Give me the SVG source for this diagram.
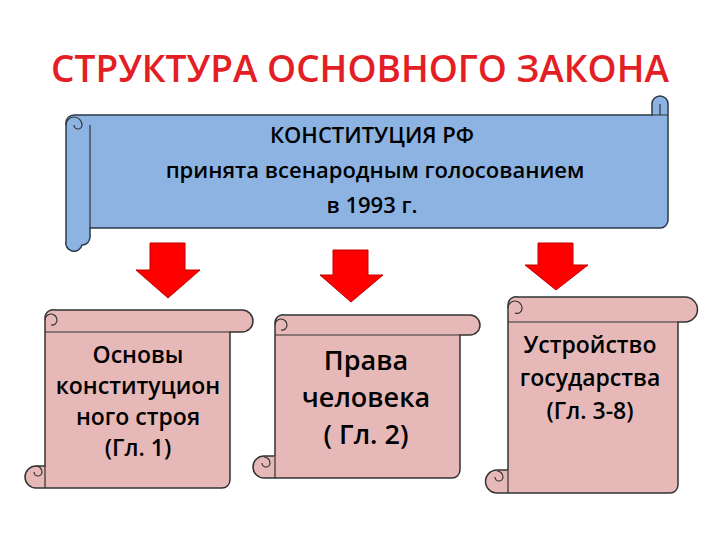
<svg xmlns="http://www.w3.org/2000/svg" width="720" height="540" viewBox="0 0 720 540">
<style>
text{font-family:"Open Sans","Liberation Sans",sans-serif;fill:#000;text-anchor:middle;font-weight:600}
.bl{fill:#8DB3E2;stroke:#2b3a4a;stroke-width:1.5}
.pk{fill:#E6B9B8;stroke:#333;stroke-width:1.5}
.ln{fill:none;stroke:#333;stroke-width:1.2}
.ar{fill:#FF0000;stroke:#C00000;stroke-width:1}
</style>
<rect width="720" height="540" fill="#fff"/>
<text x="360" y="82" font-size="37" style="fill:#E31E24">СТРУКТУРА ОСНОВНОГО ЗАКОНА</text>
<g id="main">
<path class="bl" d="M78,115 H652 V104 a8,8 0 0 1 16,0 V220 a8,8 0 0 1 -8,8 H90 V237 a8,8 0 0 1 -8,8 a8,8 0 0 1 -16,-4 V123 a8,8 0 0 1 8,-8 Z"/>
<path class="ln" d="M66,125 a8,8 0 0 1 16,0 a4,4 0 0 1 -8,0 M90,125 V228 M652,115 H668 M660,104 V115"/>
<text x="372" y="143" font-size="22" font-weight="bold">КОНСТИТУЦИЯ РФ</text>
<text x="375" y="178" font-size="22">принята всенародным голосованием</text>
<text x="372" y="213" font-size="22" font-weight="bold">в 1993 г.</text>
</g>
<g id="connectors">
<path class="ar" d="M150,243 H185 V270 H200 L168,298 L136,270 H150 Z"/>
<path class="ar" d="M333,250 H368 V275 H383 L351,302 L320,275 H333 Z"/>
<path class="ar" d="M538,243 H573 V265 H588 L556,290 L525,265 H538 Z"/>
</g>
<g id="box1">
<path class="pk" d="M55,310 H242 a10,10 0 0 1 0,22 H230 V480 a8,8 0 0 1 -8,8 H36 a8,8 0 0 1 0,-22 H45 V318 a8,8 0 0 1 10,-8 Z"/>
<path class="ln" d="M45,320 a6,6 0 0 1 12,0 a5,5 0 0 1 -6,5 M45,332 H230 M36,466 a6,6 0 0 1 6,6 a4,4 0 0 1 -8,0 M45,466 V488"/>
<text x="138" y="363" font-size="23">Основы</text>
<text x="138" y="394" font-size="23">конституцион</text>
<text x="138" y="425" font-size="23">ного строя</text>
<text x="138" y="456" font-size="23">(Гл. 1)</text>
</g>
<g id="box2">
<path class="pk" d="M285,315 H470 a10,10 0 0 1 0,20 H460 V470 a8,8 0 0 1 -8,8 H264 a8,8 0 0 1 0,-22 H275 V323 a8,8 0 0 1 10,-8 Z"/>
<path class="ln" d="M275,325 a6,6 0 0 1 12,0 a5,5 0 0 1 -6,5 M275,335 H460 M264,457 a6,6 0 0 1 6,6 a4,4 0 0 1 -8,0 M275,457 V478"/>
<text x="366" y="370" font-size="27">Права</text>
<text x="366" y="407" font-size="27">человека</text>
<text x="366" y="444" font-size="27">( Гл. 2)</text>
</g>
<g id="box3">
<path class="pk" d="M518,297 H685 a12,12 0 0 1 0,25 H678 V485 a8,8 0 0 1 -8,8 H497 a8,8 0 0 1 0,-23 H508 V305 a8,8 0 0 1 10,-8 Z"/>
<path class="ln" d="M508,308 a7,7 0 0 1 14,0 a5,5 0 0 1 -7,5 M508,322 H678 M497,471 a6,6 0 0 1 6,6 a4,4 0 0 1 -8,0 M508,471 V493"/>
<text x="590" y="353" font-size="23">Устройство</text>
<text x="590" y="386" font-size="23">государства</text>
<text x="590" y="419" font-size="23">(Гл. 3-8)</text>
</g>
</svg>
